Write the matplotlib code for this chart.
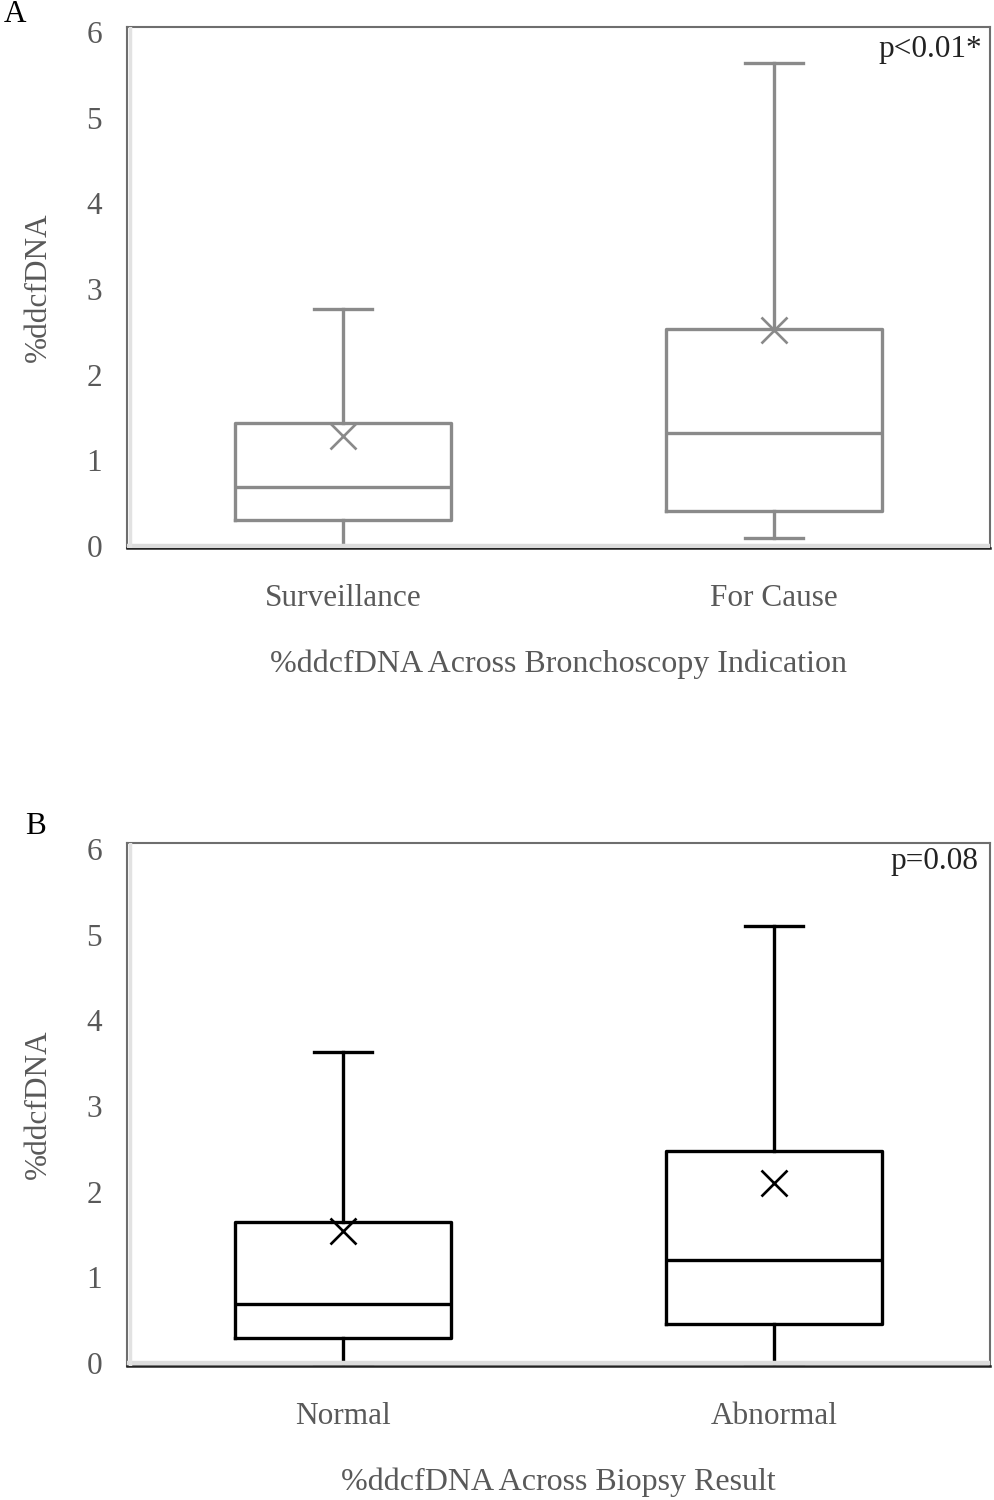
import numpy as np
import matplotlib
matplotlib.use('Agg')
import matplotlib.pyplot as plt

plt.rcParams['font.family'] = ['Liberation Serif', 'DejaVu Serif']

# panel A: %ddcfDNA by bronchoscopy indication
groups_a = ['Surveillance', 'For Cause']
whislo_a = [0.0, 0.09]
q1_a = [0.30, 0.41]
med_a = [0.69, 1.32]
q3_a = [1.44, 2.53]
whishi_a = [2.77, 5.64]
mean_a = [1.28, 2.52]

# panel B: %ddcfDNA by biopsy result
groups_b = ['Normal', 'Abnormal']
whislo_b = [0.0, 0.0]
q1_b = [0.29, 0.455]
med_b = [0.69, 1.20]
q3_b = [1.65, 2.47]
whishi_b = [3.63, 5.10]
mean_b = [1.54, 2.10]

yticks = [0, 1, 2, 3, 4, 5, 6]
TXT = '#595959'
FS = 22.5


def make_stats(labels, lo, q1, med, q3, hi, mean):
    stats = []
    for i in range(len(labels)):
        stats.append(dict(label=labels[i], whislo=lo[i], q1=q1[i], med=med[i],
                          q3=q3[i], whishi=hi[i], mean=mean[i], fliers=[]))
    return stats


def draw_panel(ax, stats, color, lw, ylim, xlabel, ptext, ppos):
    props = dict(color=color, linewidth=lw)
    ax.bxp(stats, positions=[0, 1], widths=0.5, showmeans=True,
           showfliers=False, capwidths=0.135,
           boxprops=props, whiskerprops=props, capprops=props,
           medianprops=props,
           meanprops=dict(marker='x', markersize=19, markeredgecolor=color,
                          markeredgewidth=lw * 0.8, linestyle='none'))
    # light excel-style baseline and left edge inside the frame
    ax.axhline(0, color='#dcdcdc', linewidth=3.2, zorder=3)
    ax.plot([0.004, 0.004], [0, 1], transform=ax.transAxes,
            color='#e2e2e2', linewidth=2.5, zorder=3)
    ax.set_xlim(-0.5, 1.5)
    ax.set_ylim(*ylim)
    ax.set_yticks(yticks)
    ax.tick_params(length=0, labelsize=FS, labelcolor=TXT)
    ax.tick_params(axis='y', pad=18)
    ax.tick_params(axis='x', pad=26)
    ax.set_ylabel('%ddcfDNA', fontsize=FS, color=TXT, labelpad=24)
    ax.set_xlabel(xlabel, fontsize=23, color=TXT, labelpad=26)
    for s in ['top', 'right', 'left']:
        ax.spines[s].set_color('#6e6e6e')
        ax.spines[s].set_linewidth(1.5)
    ax.spines['bottom'].set_color('#222222')
    ax.spines['bottom'].set_linewidth(1.8)
    ax.text(ppos[0], ppos[1], ptext, transform=ax.transAxes, ha='right',
            va='center', fontsize=FS, color='#222222')


fig = plt.figure(figsize=(9.94, 15), dpi=100)
ax_a = fig.add_axes([0.1278, 0.6347, 0.8682, 0.3473])
ax_b = fig.add_axes([0.1278, 0.0893, 0.8682, 0.3487])

draw_panel(ax_a, make_stats(groups_a, whislo_a, q1_a, med_a, q3_a, whishi_a, mean_a),
           '#8a8a8a', 2.4, (-0.023, 6.06),
           '%ddcfDNA Across Bronchoscopy Indication', 'p<0.01*', (0.991, 0.956))
draw_panel(ax_b, make_stats(groups_b, whislo_b, q1_b, med_b, q3_b, whishi_b, mean_b),
           '#000000', 2.4, (-0.035, 6.07),
           '%ddcfDNA Across Biopsy Result', 'p=0.08', (0.987, 0.964))

fig.text(15 / 994, 1 - 15 / 1500, 'A', ha='center', va='center', fontsize=FS, color='black')
fig.text(35 / 994, 1 - 826 / 1500, 'B', ha='center', va='center', fontsize=FS, color='black')

fig.savefig('out.png', dpi=100)
